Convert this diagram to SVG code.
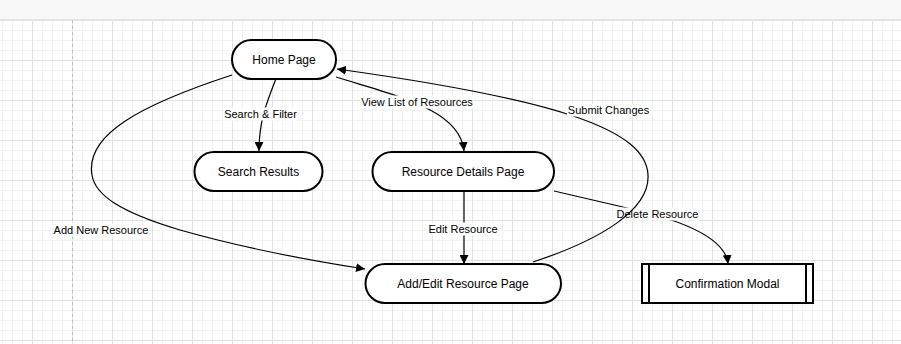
<svg xmlns="http://www.w3.org/2000/svg" width="901" height="344" viewBox="0 0 901 344">
  <style>
    .node { fill: #ffffff; stroke: #000000; stroke-width: 2; }
    .edge { fill: none; stroke: #000000; stroke-width: 1.2; }
    .ntext { font-family: "Liberation Sans", Arial, sans-serif; font-size: 12px; fill: #000000; text-anchor: middle; }
    .ltext { font-family: "Liberation Sans", Arial, sans-serif; font-size: 11px; fill: #000000; text-anchor: middle; }
    .lbg { fill: #ffffff; }
  </style>
  <defs>
    <pattern id="grid" x="32" y="20" width="40" height="40" patternUnits="userSpaceOnUse">
      <path d="M10.5,0 V40 M20.5,0 V40 M30.5,0 V40 M0,10.5 H40 M0,20.5 H40 M0,30.5 H40" stroke="#f2f2f2" stroke-width="1" fill="none"/>
      <path d="M0.5,0 V40 M0,0.5 H40" stroke="#e2e2e2" stroke-width="1" fill="none"/>
    </pattern>
    <marker id="arrow" viewBox="0 0 10 10" refX="10" refY="5" markerWidth="9" markerHeight="9" markerUnits="userSpaceOnUse" orient="auto">
      <path d="M0,0 L10,5 L0,10 z" fill="#000000"/>
    </marker>
  </defs>

  <!-- canvas -->
  <rect x="0" y="0" width="901" height="344" fill="#ffffff"/>
  <rect x="0" y="20" width="901" height="324" fill="url(#grid)"/>
  <line x1="72.5" y1="20" x2="72.5" y2="344" stroke="#bdbdbd" stroke-width="1" stroke-dasharray="3,3"/>
  <rect x="0" y="0" width="901" height="19" fill="#f8f8f8"/>
  <line x1="0" y1="19.5" x2="901" y2="19.5" stroke="#e4e4e4" stroke-width="1"/>

  <!-- connectors -->
  <g id="connectors">
    <g id="edge-search">
      <path class="edge" d="M275.5,80 C266,104 259,122 259,151" marker-end="url(#arrow)"/>
      <rect class="lbg" x="223.5" y="107.5" width="74" height="13"/>
      <text class="ltext" x="260.5" y="118">Search &amp; Filter</text>
    </g>
    <g id="edge-view">
      <path class="edge" d="M336,77 C400,97 460,110 464,151" marker-end="url(#arrow)"/>
      <rect class="lbg" x="360.5" y="95.5" width="113" height="13"/>
      <text class="ltext" x="417" y="106">View List of Resources</text>
    </g>
    <g id="edge-add">
      <path class="edge" d="M232,75 C140,105 85,135 92,175 C95,195 120,212 180,230 C240,247 300,259 365,269" marker-end="url(#arrow)"/>
      <rect class="lbg" x="53" y="223.5" width="96" height="13"/>
      <text class="ltext" x="101" y="234">Add New Resource</text>
    </g>
    <g id="edge-edit">
      <path class="edge" d="M464,192 V264" marker-end="url(#arrow)"/>
      <rect class="lbg" x="428" y="222.5" width="70" height="13"/>
      <text class="ltext" x="463" y="233">Edit Resource</text>
    </g>
    <g id="edge-delete">
      <path class="edge" d="M554,191 L640,211 Q725,232 728,264" marker-end="url(#arrow)"/>
      <rect class="lbg" x="616" y="207.5" width="83" height="13"/>
      <text class="ltext" x="657.5" y="218">Delete Resource</text>
    </g>
    <g id="edge-submit">
      <path class="edge" d="M533,262 C600,240 650,210 648,175 C646,130 560,100 337,69" marker-end="url(#arrow)"/>
      <rect class="lbg" x="567" y="103.5" width="83" height="13"/>
      <text class="ltext" x="608.5" y="114">Submit Changes</text>
    </g>
  </g>

  <!-- nodes -->
  <g id="home-page">
    <rect class="node" x="232" y="40" width="104" height="39" rx="19.5" ry="19.5"/>
    <text class="ntext" x="284" y="63.8">Home Page</text>
  </g>
  <g id="search-results">
    <rect class="node" x="194.5" y="152" width="128" height="39" rx="19.5" ry="19.5"/>
    <text class="ntext" x="258.5" y="175.8">Search Results</text>
  </g>
  <g id="resource-details">
    <rect class="node" x="372.5" y="152" width="181.5" height="39" rx="19.5" ry="19.5"/>
    <text class="ntext" x="463" y="175.8">Resource Details Page</text>
  </g>
  <g id="add-edit-resource">
    <rect class="node" x="365.5" y="264" width="195.5" height="39" rx="19.5" ry="19.5"/>
    <text class="ntext" x="463" y="287.8">Add/Edit Resource Page</text>
  </g>
  <g id="confirmation-modal">
    <rect class="node" x="642" y="264" width="171" height="39"/>
    <line x1="649" y1="264" x2="649" y2="303" stroke="#000000" stroke-width="2"/>
    <line x1="806" y1="264" x2="806" y2="303" stroke="#000000" stroke-width="2"/>
    <text class="ntext" x="727.5" y="287.8">Confirmation Modal</text>
  </g>
</svg>
